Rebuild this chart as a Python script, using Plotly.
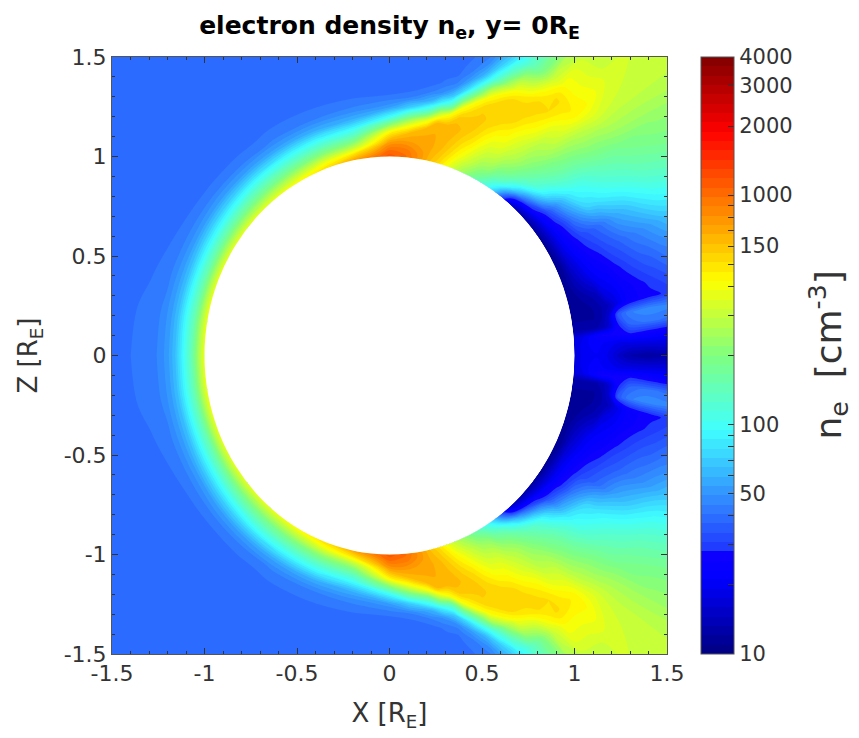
import numpy as np
import plotly.graph_objects as go

# Radial distance of each column [R_E]
radius = [1.0, 1.03, 1.07, 1.12, 1.16, 1.2, 1.25, 1.3, 1.35, 1.4, 1.45, 1.5, 1.57, 1.65, 1.85, 2.15]
# Angle of each row [deg], measured from +X towards +Z
angle = [0, 3, 5, 7, 9.5, 12, 15, 20, 25, 30, 35, 40, 45, 47.5, 50, 52.5, 55, 57.5, 60, 62.5, 65,
         67.5, 70, 72.5, 75, 77.5, 80, 85, 90, 100, 110, 120, 130, 140, 150, 160, 170, 180]
# Electron density [cm^-3], one row per angle
ne_upper = [
    [18, 19, 21, 21, 20, 18, 15, 13, 12.5, 12, 12.5, 13, 13.5, 14, 14, 14],
    [18, 19, 21, 22, 21, 20, 19, 19, 19, 19, 19, 19, 19, 18, 17, 17],
    [17, 18, 20, 24, 26, 26, 27, 28, 28, 27, 26, 25, 25, 24, 22, 20],
    [13, 13, 13, 13, 14, 17, 28, 37, 40, 41, 41, 40, 39, 37, 34, 30],
    [12, 12, 12, 12, 13, 16, 34, 42, 46, 48, 48, 47, 46, 45, 42, 40],
    [11, 11, 12, 12, 13, 14, 18, 23, 25, 26, 27, 28, 30, 32, 34, 35],
    [11, 11, 12, 13, 14, 18, 20, 23, 25, 27, 29, 31, 34, 37, 40, 44],
    [11, 12, 14, 17, 20, 22, 24, 27, 30, 33, 36, 38, 43, 48, 58, 68],
    [11, 12, 16, 20, 23, 26, 29, 33, 36, 40, 44, 48, 55, 65, 80, 100],
    [11, 13, 18, 23, 27, 31, 35, 39, 46, 55, 62, 70, 85, 100, 125, 150],
    [11, 14, 19, 26, 32, 42, 55, 72, 80, 90, 100, 110, 125, 145, 180, 200],
    [12, 15, 22, 33, 45, 60, 82, 100, 110, 125, 140, 155, 170, 190, 225, 260],
    [13, 18, 32, 62, 95, 115, 140, 160, 175, 190, 210, 230, 250, 280, 300, 310],
    [14, 20, 42, 85, 125, 145, 170, 190, 215, 235, 255, 280, 320, 350, 320, 310],
    [18, 28, 62, 115, 150, 175, 205, 235, 265, 300, 330, 370, 430, 430, 330, 310],
    [32, 50, 95, 150, 185, 215, 240, 265, 295, 335, 380, 440, 490, 420, 310, 300],
    [62, 85, 135, 190, 225, 260, 290, 320, 370, 420, 470, 510, 520, 420, 300, 300],
    [95, 120, 165, 220, 260, 300, 340, 380, 430, 490, 530, 530, 430, 310, 240, 240],
    [125, 160, 215, 270, 310, 350, 400, 450, 510, 540, 530, 470, 310, 190, 160, 160],
    [160, 195, 240, 290, 330, 370, 430, 500, 550, 550, 520, 400, 250, 130, 105, 105],
    [205, 240, 290, 340, 390, 440, 500, 550, 560, 530, 420, 250, 135, 85, 70, 70],
    [255, 290, 350, 420, 480, 530, 570, 570, 540, 420, 250, 120, 72, 55, 48, 48],
    [320, 360, 430, 500, 550, 590, 590, 530, 410, 190, 95, 60, 46, 42, 40, 40],
    [420, 470, 530, 590, 620, 640, 580, 410, 170, 78, 52, 44, 41, 40, 40, 40],
    [530, 570, 620, 650, 660, 620, 420, 140, 70, 47, 41, 39.5, 39, 39, 39, 39],
    [620, 650, 680, 680, 670, 610, 260, 90, 50, 42, 39, 38.5, 39, 39, 39, 39],
    [750, 750, 720, 680, 630, 380, 130, 60, 44, 38.5, 38, 38, 38.5, 39, 39, 39],
    [1000, 950, 780, 620, 380, 190, 72, 45, 38.5, 37.2, 37.2, 38, 38.5, 39, 39, 39],
    [1150, 1000, 750, 450, 210, 95, 52, 41.5, 38, 37.2, 37.2, 38, 38.5, 39, 39, 39],
    [750, 520, 270, 140, 90, 60, 46, 41, 39, 38, 38.5, 38.5, 39, 39, 39, 39],
    [520, 380, 220, 125, 85, 58, 45, 41, 39.5, 38.5, 39, 39, 39, 39, 39, 39],
    [420, 300, 190, 115, 80, 56, 45, 41, 39.5, 39, 39, 39, 39, 39, 39, 39],
    [370, 270, 175, 110, 76, 55, 44, 40.4, 39.5, 39, 39, 39, 39, 39, 39, 39],
    [360, 260, 165, 100, 72, 54, 44, 40.2, 39.5, 39, 39, 39, 39, 39, 39, 39],
    [360, 255, 155, 95, 68, 52, 44, 40.8, 39.5, 39, 39, 39, 39, 39, 39, 39],
    [370, 255, 150, 92, 65, 52, 44.5, 41.5, 40.3, 39, 39, 39, 39, 39, 39, 39],
    [380, 260, 150, 92, 65, 52, 45, 43, 41.5, 40.4, 39, 39, 39, 39, 39, 39],
    [380, 260, 150, 90, 64, 52, 45, 43.5, 42, 40.7, 39.8, 39, 39, 39, 39, 39],
]
cbar_ticks = [10, 20, 30, 40, 50, 60, 70, 80, 90, 100, 200, 300, 400, 500, 600, 700, 800, 900,
              1000, 2000, 3000, 4000]
cbar_labels = ["10", "", "", "", "50", "", "", "", "", "100", "", "", "", "", "150", "", "", "",
               "1000", "2000", "3000", "4000"]
xz_ticks = [-1.5, -1, -0.5, 0, 0.5, 1, 1.5]
xz_labels = ["-1.5", "-1", "-0.5", "0", "0.5", "1", "1.5"]

jet = [[0, "#000080"], [0.125, "#0000ff"], [0.17, "#1000ff"], [0.1701, "#1e32ff"], [0.23, "#2d6eff"],
       [0.375, "#40ffff"], [0.5, "#80ff80"], [0.625, "#ffff00"], [0.875, "#ff0000"], [1, "#800000"]]

FONT = "DejaVu Sans"
INK = "#333333"
AXIS = "#555555"
PAGE = 8  # the page's own margin around the figure

# Mirror the upper half about z = 0
ang = np.array(angle, float)
full_ang = np.concatenate([-ang[::-1], ang[1:]])
up = np.array(ne_upper, float)
full_ne = np.vstack([up[::-1], up[1:]])
rad = np.array(radius, float)
T, R = np.meshgrid(np.radians(full_ang), rad, indexing="ij")
X = R * np.cos(T)
Z = R * np.sin(T)

zmin, zmax = np.log10(10), np.log10(4000)
hidden = dict(showgrid=False, showline=False, showticklabels="none", startline=False,
              endline=False, minorgridcount=0, smoothing=0)

fig = go.Figure()
fig.add_trace(go.Carpet(a=rad, b=full_ang, x=X, y=Z, carpet="c", aaxis=hidden, baxis=hidden))
fig.add_trace(go.Contourcarpet(
    a=rad, b=full_ang, z=np.log10(full_ne), carpet="c",
    colorscale=jet, zmin=zmin, zmax=zmax, autocontour=False,
    contours=dict(start=zmin, end=zmax, size=(zmax - zmin) / 64, coloring="fill", showlines=False),
    line=dict(width=0),
    colorbar=dict(
        x=(701 - 112) / 555, xanchor="left", xpad=0, y=0.5, yanchor="middle", ypad=0, len=1,
        thickness=33, outlinewidth=1, outlinecolor=AXIS,
        tickmode="array", tickvals=np.log10(cbar_ticks).tolist(), ticktext=cbar_labels,
        ticks="inside", ticklen=6, tickcolor="#333333", tickwidth=1,
        tickfont=dict(family=FONT, size=21, color=INK),
    ),
))

axis = dict(
    visible=True, range=[-1.5, 1.5], autorange=False, tickmode="array", tickvals=xz_ticks,
    ticktext=xz_labels, ticks="inside", ticklen=6, tickcolor="#333333", tickwidth=1,
    tickfont=dict(family=FONT, size=22, color=INK), showgrid=False, zeroline=False,
    showline=True, linecolor=AXIS, linewidth=1, mirror="ticks", layer="above traces",
    minor=dict(dtick=0.1, tick0=-1.5, ticks="inside", ticklen=3, tickcolor="#333333", tickwidth=1,
               showgrid=False),
)
fig.update_layout(
    width=859 - PAGE, height=738 - PAGE,
    margin=dict(l=112 - PAGE, r=192, t=57 - PAGE, b=84, autoexpand=False),
    paper_bgcolor="white", plot_bgcolor="white",
    title=dict(text="<b>electron density n<sub>e</sub>, y= 0R<sub>E</sub></b>", x=0.5, xref="paper",
               xanchor="center", y=1 - (25 - PAGE) / 730, yref="container", yanchor="middle",
               font=dict(family=FONT, size=25, color="black")),
    xaxis=dict(axis, title=dict(text="X [R<sub>E</sub>]", standoff=18,
                                font=dict(family=FONT, size=26, color=INK))),
    yaxis=dict(axis, title=dict(text="Z [R<sub>E</sub>]", standoff=18,
                                font=dict(family=FONT, size=26, color=INK))),
    shapes=[dict(type="circle", xref="x", yref="y", x0=-1, x1=1, y0=-1, y1=1,
                 fillcolor="white", line=dict(width=0), layer="above")],
    annotations=[dict(text="n<sub>e</sub>  [cm<sup>-3</sup>]", textangle=-90, showarrow=False,
                      xref="paper", yref="paper", x=(828 - 112) / 555, y=0.5,
                      xanchor="center", yanchor="middle",
                      font=dict(family=FONT, size=36, color=INK))],
)
fig.write_html("out.html")
